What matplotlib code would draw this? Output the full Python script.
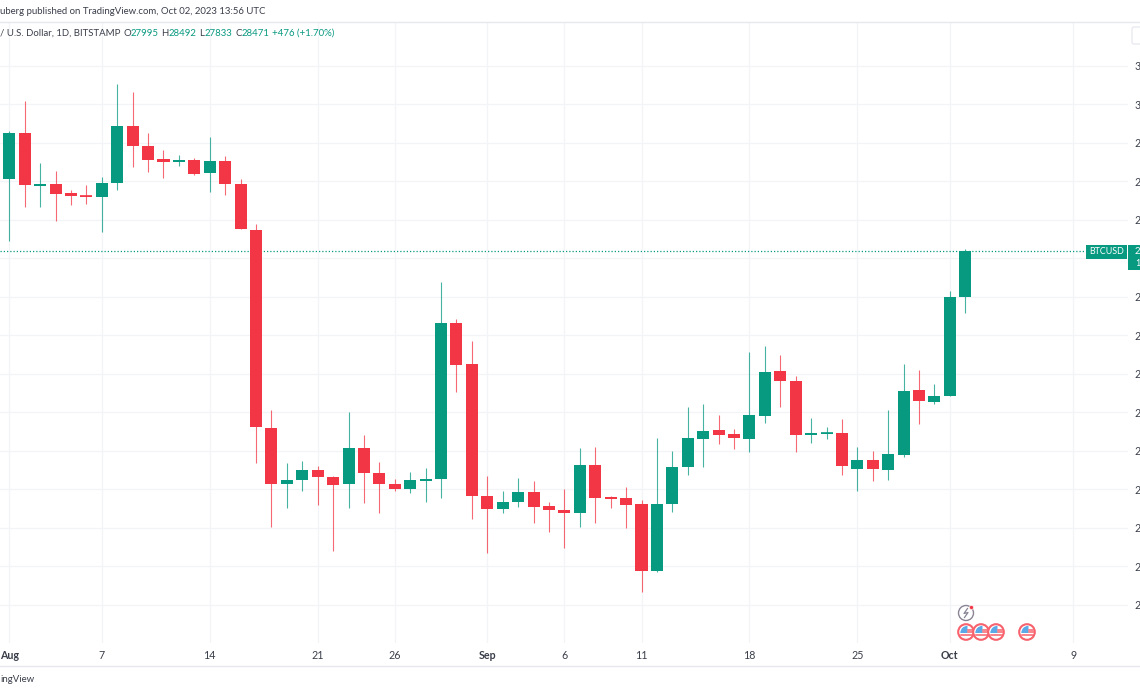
import matplotlib
matplotlib.use("Agg")
import matplotlib.pyplot as plt
from matplotlib.patches import Circle, Wedge, Rectangle, FancyBboxPatch

plt.rcParams['font.family'] = ['Lato', 'DejaVu Sans']

# Daily OHLC, 1 Aug 2023 .. 2 Oct 2023 (BTCUSD, Bitstamp)
opens = [29221, 29702, 29153, 29174, 29075, 29047, 29034, 29176, 29775, 29567, 29425, 29397, 29415, 29280, 29405, 29172,
         28688, 26630, 26049, 26090, 26194, 26128, 26049, 26429, 26169, 26052, 26003, 26080, 26101, 27728, 27299,
         25927, 25795, 25862, 25969, 25827, 25778, 25747, 26252, 25914, 25903, 25844, 25151, 25841, 26225, 26523,
         26613, 26568, 26523, 26758, 27223, 27125, 26564, 26574, 26578, 26205, 26298, 26197, 26356, 27032, 26907,
         26963, 27995]
highs = [29720, 30031, 29390, 29307, 29106, 29158, 29242, 30211, 30122, 29699, 29525, 29467, 29439, 29660, 29460, 29224,
         28753, 26818, 26267, 26294, 26239, 26138, 26797, 26564, 26277, 26101, 26173, 26221, 28147, 27763, 27534,
         26138, 25979, 26111, 26080, 25862, 26003, 26423, 26433, 25927, 26021, 25886, 26530, 26395, 26849, 26880,
         26766, 26620, 27423, 27486, 27392, 27174, 26734, 26641, 26730, 26439, 26392, 26824, 27299, 27233, 27091,
         28054, 28492]
lows = [28577, 28930, 28927, 28784, 28951, 28964, 28673, 29106, 29349, 29293, 29228, 29353, 29259, 29089, 29055, 28698,
        26273, 25602, 25806, 25982, 25830, 25352, 25806, 25858, 25754, 25982, 25961, 25862, 25910, 27011, 25688,
        25338, 25754, 25813, 25650, 25553, 25387, 25602, 25650, 25806, 25595, 24927, 25134, 25764, 26148, 26232,
        26464, 26416, 26381, 26683, 26855, 26381, 26481, 26519, 26145, 25982, 26086, 26093, 26329, 26678, 26886,
        26963, 27833]
closes = [29696, 29158, 29174, 29065, 29044, 29034, 29182, 29768, 29561, 29418, 29394, 29415, 29276, 29405, 29169, 28698,
          26644, 26049, 26096, 26194, 26122, 26038, 26429, 26166, 26049, 26003, 26096, 26104, 27728, 27291, 25930,
          25795, 25868, 25969, 25813, 25778, 25747, 26246, 25903, 25896, 25830, 25151, 25844, 26229, 26530, 26606,
          26564, 26533, 26772, 27216, 27125, 26558, 26585, 26582, 26239, 26298, 26205, 26360, 27021, 26911, 26963,
          27992, 28471]

price_ticks = [24800, 25200, 25600, 26000, 26400, 26800, 27200, 27600, 28000, 28400, 28800, 29200, 29600, 30000, 30400]
date_tick_pos = [0, 6, 13, 20, 25, 31, 36, 41, 48, 55, 61, 69]
date_tick_lab = ['Aug', '7', '14', '21', '26', 'Sep', '6', '11', '18', '25', 'Oct', '9']
date_tick_bold = ['Aug', 'Sep', 'Oct']
last_price = 28471

GREEN = '#089981'
RED = '#F23645'
GRID = '#f2f4f8'
FRAME = '#e6e8ee'
TEXT = '#3a3e4a'
W, H = 1140, 694
FS = 7.7
HS = 6.9

fig = plt.figure(figsize=(W / 100, H / 100), dpi=100, facecolor='white')
ax = fig.add_axes([0, 1 - 643 / H, 1128 / W, (643 - 22) / H])
ax.set_xlim(-0.603, 72.55)
ax.set_ylim(24400, 30852)
ax.set_axisbelow(True)
ax.grid(True, color=GRID, lw=0.9)
for s in ax.spines.values():
    s.set_visible(False)
ax.yaxis.tick_right()
ax.set_yticks(price_ticks)
# the reference is cropped at its right edge: only the leading digit of each price shows,
# and the tick next to the last price is hidden by the price tag
ax.set_yticklabels(['' if abs(p - last_price) < 100 else str(p)[0] for p in price_ticks])
ax.set_xticks(date_tick_pos)
ax.set_xticklabels(date_tick_lab)
ax.tick_params(axis='both', length=0, labelsize=FS, labelcolor=TEXT)
ax.tick_params(axis='y', pad=5)
ax.tick_params(axis='x', pad=5)
for lab in ax.get_xticklabels():
    if lab.get_text() in date_tick_bold:
        lab.set_fontweight('bold')

days = range(len(opens))
colors = [GREEN if c >= o else RED for o, c in zip(opens, closes)]
ax.vlines(days, lows, highs, colors=colors, lw=0.8, alpha=0.75, zorder=2)
ax.bar(days, [abs(c - o) for o, c in zip(opens, closes)], bottom=[min(o, c) for o, c in zip(opens, closes)],
       width=0.78, color=colors, linewidth=0, zorder=3)
for d, o, c, col in zip(days, opens, closes, colors):
    if abs(c - o) < 25:
        ax.hlines((o + c) / 2, d - 0.39, d + 0.39, colors=col, lw=1.2, zorder=3)
ax.axhline(last_price, color=GREEN, lw=0.9, ls=(0, (1, 1.6)), zorder=1)

# Pixel-space overlay for the page furniture
ov = fig.add_axes([0, 0, 1, 1], facecolor='none')
ov.set_xlim(0, W)
ov.set_ylim(H, 0)
ov.axis('off')
ov.plot([0, W], [21.5, 21.5], color=FRAME, lw=1)
ov.plot([0, W], [665.5, 665.5], color=FRAME, lw=1)
ov.text(0, 11.5, 'uberg published on TradingView.com, Oct 02, 2023 13:56 UTC', fontsize=HS, color=TEXT, va='center')
ov.text(0, 33.5, '/ U.S. Dollar, 1D, BITSTAMP', fontsize=HS, color=TEXT, va='center')
for x, s, c in [(123.5, 'O', TEXT), (131, '27995', GREEN), (161, 'H', TEXT), (168.5, '28492', GREEN),
                (199, 'L', TEXT), (205, '27833', GREEN), (235, 'C', TEXT), (241.5, '28471', GREEN),
                (272, '+476 (+1.70%)', GREEN)]:
    ov.text(x, 33.5, s, fontsize=HS, color=c, va='center')
ov.text(0, 680, 'ingView', fontsize=HS, color=TEXT, va='center')

# last-price tags
ov.add_patch(Rectangle((1086, 245), 41, 13.5, color=GREEN, lw=0))
ov.text(1106.5, 251.7, 'BTCUSD', fontsize=6.4, color='white', va='center', ha='center')
ov.add_patch(Rectangle((1128, 245), 14, 25, color=GREEN, lw=0))
ov.text(1135, 251.5, str(last_price)[0], fontsize=HS, color='white', va='center')
ov.text(1135, 263, '1', fontsize=6.4, color='white', va='center')

# corner button
ov.add_patch(FancyBboxPatch((1132, 27), 20, 17, boxstyle='round,pad=0,rounding_size=2', fc='white', ec=FRAME, lw=0.9))

# event icons
ov.add_patch(Circle((966, 613), 7.5, fc='white', ec='#8a8594', lw=1.0))
ov.plot([967.5, 964, 968, 964.5], [608.5, 613.5, 612.5, 617.5], color='#8a8594', lw=0.9)
ov.add_patch(Circle((971.5, 607.5), 2.0, fc=RED, ec='white', lw=0.4))
for cx in [966, 981, 996, 1027]:
    cy = 632
    ov.add_patch(Circle((cx, cy), 7.8, fc='white', ec='#f7626d', lw=1.5))
    ov.add_patch(Wedge((cx + 1.5, cy + 1), 7.2, 180, 270, fc='#5ba9e6', lw=0))
    ov.plot([cx + 2, cx + 6.2], [cy - 2.5, cy - 2.5], color='#f7626d', lw=1.1)
    ov.plot([cx + 2, cx + 6.5], [cy + 0.2, cy + 0.2], color='#f7626d', lw=1.1)
    ov.plot([cx - 5.5, cx + 5.5], [cy + 3.2, cy + 3.2], color='#f7626d', lw=1.1)

fig.savefig('out.png', dpi=100)
